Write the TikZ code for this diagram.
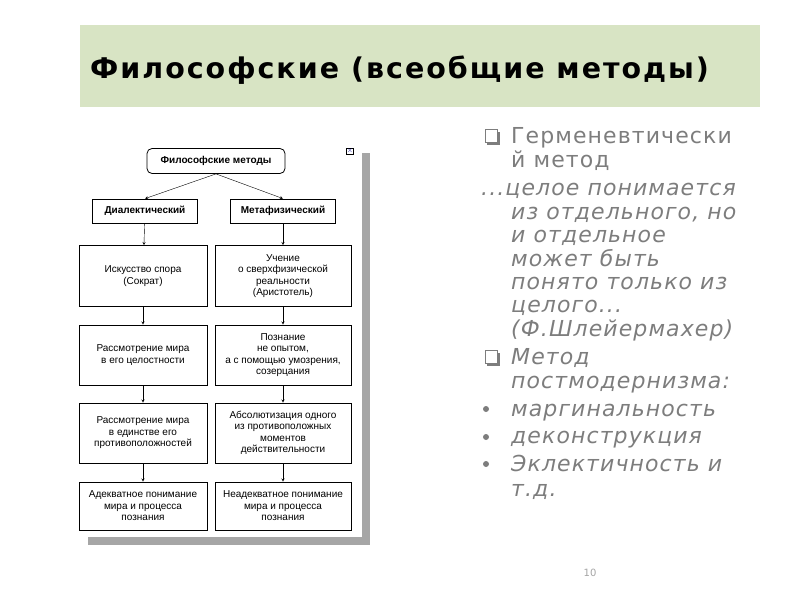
\documentclass[tikz,border=0pt]{standalone}
\usepackage{fontspec}
\setmainfont{DejaVu Sans}
\newfontfamily\arialfont{Liberation Sans}
\newfontfamily\widefont[LetterSpace=5]{DejaVu Sans}
\newfontfamily\titlefont[LetterSpace=7]{DejaVu Sans}
\usetikzlibrary{positioning}
\definecolor{titlegreen}{RGB}{216,228,196}
\definecolor{textgray}{RGB}{125,125,125}
\tikzset{
  cell/.style={draw, thick, fill=white, align=center, font=\arialfont\fontsize{10}{11.5}\selectfont, inner sep=1pt},
  head/.style={cell, font=\arialfont\bfseries\fontsize{10}{12}\selectfont},
  link/.style={->, >=stealth, thin},
  line/.style={anchor=base west, inner sep=0pt, text=textgray, font=\widefont\fontsize{22}{24}\selectfont},
  iline/.style={line, font=\widefont\itshape\fontsize{22}{24}\selectfont}
}
\begin{document}
\begin{tikzpicture}[x=1pt,y=-1pt]
            \useasboundingbox (0,0) rectangle (800,600);
            \fill[titlegreen] (80,25) rectangle (760,107);
            \node[anchor=west, inner sep=0pt, font=\titlefont\bfseries\fontsize{28.5}{30}\selectfont] (title) at (90,70) {Философские (всеобщие методы)};
            % panel with shadow
            \fill[gray!70] (88,153) rectangle (370,545);
            \fill[white] (78,145) rectangle (362,537);
            \node[draw, inner sep=0.5pt, font=\bfseries\scriptsize, text=blue!60!black] (close) at (350,151) {$\times$};
            \node[head, rounded corners=5pt, minimum width=138, minimum height=25] (top) at (216,161) {Философские методы};
            \node[head, minimum width=105, minimum height=24] (dia) at (145,211) {Диалектический};
            \node[head, minimum width=105, minimum height=24] (meta) at (283,211) {Метафизический};
            \draw[link] (top.south) -- (dia.north);
            \draw[link] (top.south) -- (meta.north);
            \node[cell, minimum width=128, minimum height=61] (l1) at (143,276) {Искусство спора\\(Сократ)};
            \node[cell, minimum width=136, minimum height=61] (r1) at (283,276) {Учение\\о сверхфизической\\реальности\\(Аристотель)};
            \node[cell, minimum width=128, minimum height=60] (l2) at (143,355) {Рассмотрение мира\\в его целостности};
            \node[cell, minimum width=136, minimum height=60] (r2) at (283,355) {Познание\\не опытом,\\а с помощью умозрения,\\созерцания};
            \node[cell, minimum width=128, minimum height=60] (l3) at (143,433) {Рассмотрение мира\\в единстве его\\противоположностей};
            \node[cell, minimum width=136, minimum height=60] (r3) at (283,433) {Абсолютизация одного\\из противоположных\\моментов\\действительности};
            \node[cell, minimum width=128, minimum height=48] (l4) at (143,506) {Адекватное понимание\\мира и процесса\\познания};
            \node[cell, minimum width=136, minimum height=48] (r4) at (283,506) {Неадекватное понимание\\мира и процесса\\познания};
            \draw[link] (dia) -- (l1);
            \draw[link] (l1) -- (l2);
            \draw[link] (l2) -- (l3);
            \draw[link] (l3) -- (l4);
            \draw[link] (meta) -- (r1);
            \draw[link] (r1) -- (r2);
            \draw[link] (r2) -- (r3);
            \draw[link] (r3) -- (r4);
            % right text
            \foreach \y in {129,350} {
              \fill[textgray] (487,\y+3) rectangle (500,\y+16);
              \filldraw[draw=textgray, fill=white, line width=0.8] (485,\y) rectangle (497,\y+13);
            }
            \node[line] (t1) at (511,143) {Герменевтически};
            \node[line] (t2) at (511,167) {й метод};
            \node[iline] (t3) at (481,195) {...целое понимается};
            \node[iline] (t4) at (511,219) {из отдельного, но};
            \node[iline] (t5) at (511,242) {и отдельное};
            \node[iline] (t6) at (511,266) {может быть};
            \node[iline] (t7) at (511,289) {понято только из};
            \node[iline] (t8) at (511,312) {целого...};
            \node[iline] (t9) at (511,336) {(Ф.Шлейермахер)};
            \node[iline] (t10) at (511,364) {Метод};
            \node[iline] (t11) at (511,388) {постмодернизма:};
            \node[iline] (t12) at (511,416) {маргинальность};
            \node[iline] (t13) at (511,443) {деконструкция};
            \node[iline] (t14) at (511,471) {Эклектичность и};
            \node[iline] (t15) at (511,496) {т.д.};
            \foreach \y in {409,437,464} \fill[textgray] (486,\y) circle (3);
            \node[text=textgray!70, font=\fontsize{10}{12}\selectfont] (page) at (590,573) {10};
        \end{tikzpicture}
\end{document}
